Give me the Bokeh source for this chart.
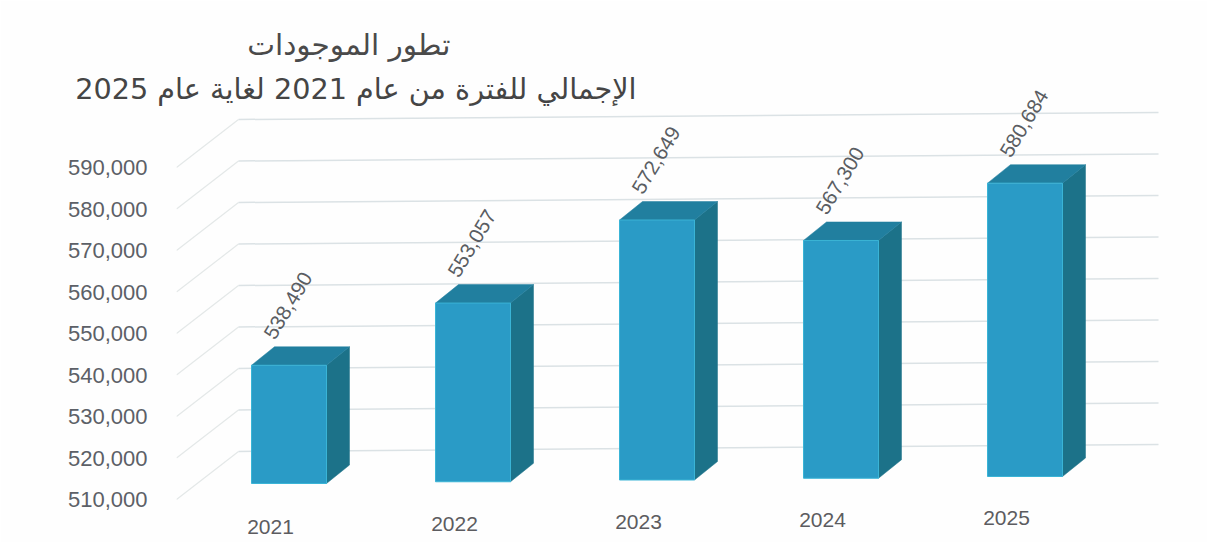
from bokeh.plotting import figure
from bokeh.models import Range1d, FixedTicker, NumeralTickFormatter, Title
from bokeh.core.properties import value
from bokeh.embed import file_html
from bokeh.resources import INLINE

years = ["2021", "2022", "2023", "2024", "2025"]
assets = [538490, 553057, 572649, 567300, 580684]
value_labels = ["538,490", "553,057", "572,649", "567,300", "580,684"]
tick_values = [510000, 520000, 530000, 540000, 550000, 560000, 570000, 580000, 590000]
title_line_1 = "تطور الموجودات"
title_line_2 = "الإجمالي للفترة من عام 2021 لغاية عام 2025"

BASE = 510000
PX_X = 184.0      # pixels per category
PX_Y = 0.00415    # pixels per unit of value
W, H = 1207, 542
FRAME_LEFT = 176
FRAME_TOP = 90


def u(px):        # vertical pixels expressed in value units
    return px / PX_Y


LIFT = u(16)      # front plane of the bars above the tick position
TILT = u(1.75)    # the scan's slight rotation, per category
HALF = 37.5 / PX_X
DX, DY = 23 / PX_X, u(18.5)

x_start = -(288.5 - FRAME_LEFT) / PX_X
x_end = x_start + (W - FRAME_LEFT) / PX_X
y_end = BASE + u(499 - FRAME_TOP)
y_start = BASE - u(H - 499)

p = figure(width=W, height=H, output_backend="svg", toolbar_location=None,
           x_range=Range1d(x_start, x_end), y_range=Range1d(y_start, y_end),
           min_border_left=FRAME_LEFT, min_border_right=0, min_border_top=FRAME_TOP, min_border_bottom=0,
           x_axis_location=None, background_fill_color="#fefefe", border_fill_color="#fefefe",
           outline_line_color=None)
p.xgrid.visible = False
p.ygrid.visible = False

ax = p.yaxis[0]
ax.ticker = FixedTicker(ticks=tick_values)
ax.formatter = NumeralTickFormatter(format="0,0")
ax.axis_line_color = None
ax.major_tick_line_color = None
ax.minor_tick_line_color = None
ax.major_label_standoff = 23
ax.major_label_text_font = "Liberation Sans"
ax.major_label_text_font_size = "22px"
ax.major_label_text_color = "#5c6067"

# walls: front-left diagonal, then the back wall running right
corner_x = (238 - 288.5) / PX_X
right_x = (1158 - 288.5) / PX_X
p.multi_line(xs=[[x_start, corner_x] for _ in tick_values],
             ys=[[t, t + u(48)] for t in tick_values],
             line_color="#e4e8e8", line_width=1.2)
p.multi_line(xs=[[corner_x, right_x] for _ in tick_values],
             ys=[[t + u(48), t + u(55)] for t in tick_values],
             line_color="#dbe2e5", line_width=1.5)

idx = list(range(len(assets)))
bottoms = [BASE + LIFT + TILT * i for i in idx]
tops = [a - BASE + b for a, b in zip(assets, bottoms)]
lefts = [i - HALF for i in idx]
rights = [i + HALF for i in idx]

# side faces
p.patches(xs=[[r, r + DX, r + DX, r] for r in rights],
          ys=[[t, t + DY, b + DY, b] for t, b in zip(tops, bottoms)],
          fill_color="#1c7289", line_color="#1c7289", line_width=0.5)
# top faces
p.patches(xs=[[l, l + DX, r + DX, r] for l, r in zip(lefts, rights)],
          ys=[[t, t + DY, t + DY, t] for t in tops],
          fill_color="#217f9f", line_color="#217f9f", line_width=0.5)
# front faces
p.quad(left=lefts, right=rights, bottom=bottoms, top=tops,
       fill_color="#2a9bc6", line_color="#3ab4d6", line_width=1)

# value labels
p.text(x=[i - 20 / PX_X for i in idx], y=[t + u(28) for t in tops], text=value_labels,
       angle=59, angle_units="deg", text_align="left", text_baseline="middle",
       text_font=value("Liberation Sans"), text_font_size="20.5px", text_color="#5a5d62")

# category labels
p.text(x=[i - 18.5 / PX_X for i in idx], y=[BASE - u(27) + TILT * 1.15 * i for i in idx], text=years,
       text_align="center", text_baseline="middle",
       text_font=value("Liberation Sans"), text_font_size="21px", text_color="#5c5c60")

p.add_layout(Title(text=title_line_2, align="right", offset=W - 636, standoff=-30, vertical_align="bottom",
                   text_font="DejaVu Sans", text_font_size="28.7px", text_font_style="normal",
                   text_color="#454545"), "above")
p.add_layout(Title(text=title_line_1, align="right", offset=W - 450, standoff=46, vertical_align="bottom",
                   text_font="DejaVu Sans", text_font_size="29.5px", text_font_style="normal",
                   text_color="#4a4a4a"), "above")

open("out.html", "w").write(file_html(p, INLINE))
